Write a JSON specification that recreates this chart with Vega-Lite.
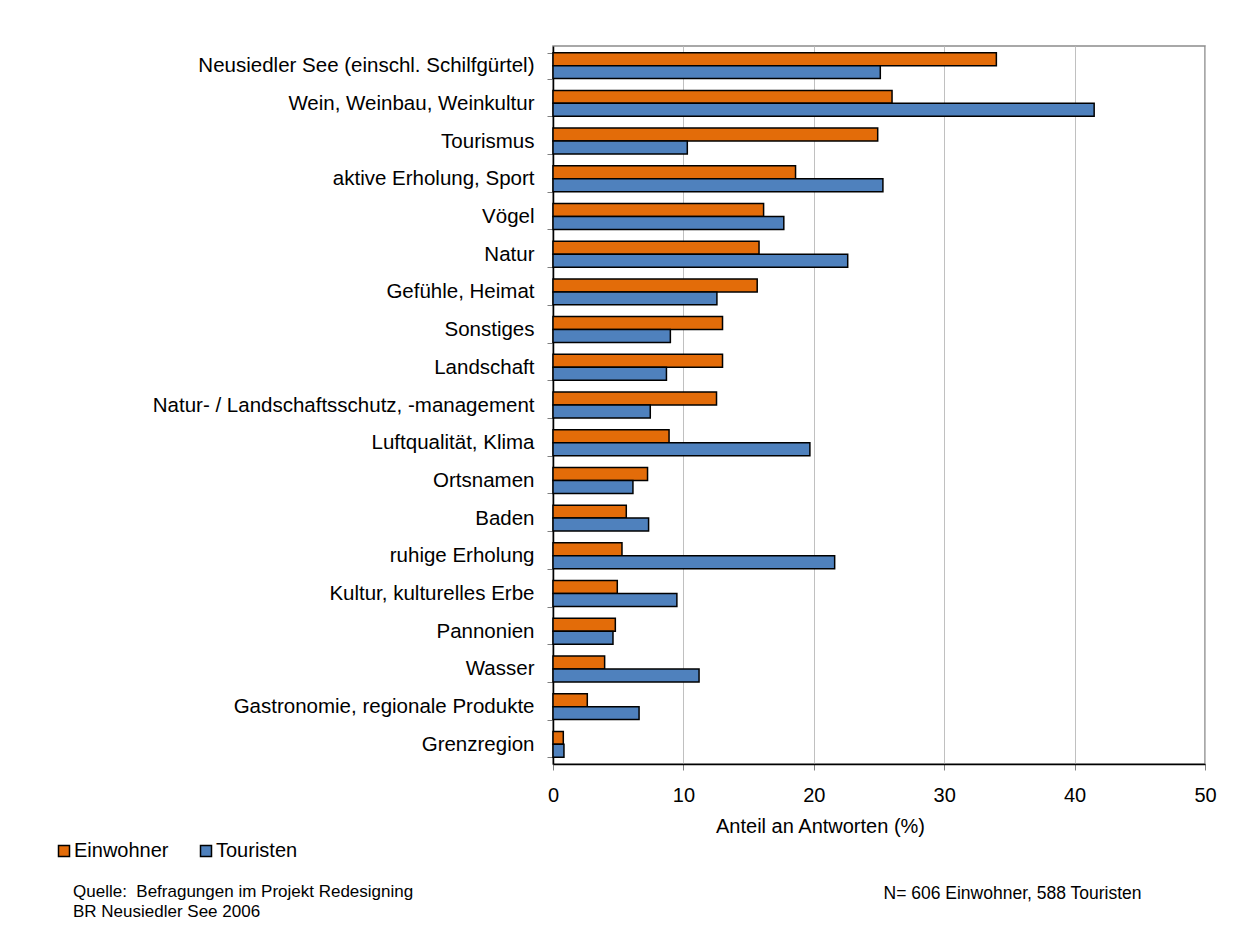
{
  "$schema": "https://vega.github.io/schema/vega-lite/v6.json",
  "width": 652,
  "height": 718,
  "autosize": "none",
  "padding": {"left": 553, "top": 46, "right": 40, "bottom": 169},
  "background": "white",
  "title": {
    "text": ["Quelle:\u00a0 Befragungen im Projekt Redesigning", "BR Neusiedler See 2006"],
    "orient": "bottom",
    "anchor": "start",
    "frame": "group",
    "dx": -480,
    "offset": -18,
    "fontSize": 17,
    "fontWeight": "normal",
    "color": "black",
    "lineHeight": 20,
    "font": "Liberation Sans"
  },
  "data": {
    "values": [
      {"kategorie": "Neusiedler See (einschl. Schilfgürtel)", "gruppe": "Einwohner", "anteil": 34.0},
      {"kategorie": "Neusiedler See (einschl. Schilfgürtel)", "gruppe": "Touristen", "anteil": 25.1},
      {"kategorie": "Wein, Weinbau, Weinkultur", "gruppe": "Einwohner", "anteil": 26.0},
      {"kategorie": "Wein, Weinbau, Weinkultur", "gruppe": "Touristen", "anteil": 41.5},
      {"kategorie": "Tourismus", "gruppe": "Einwohner", "anteil": 24.9},
      {"kategorie": "Tourismus", "gruppe": "Touristen", "anteil": 10.3},
      {"kategorie": "aktive Erholung, Sport", "gruppe": "Einwohner", "anteil": 18.6},
      {"kategorie": "aktive Erholung, Sport", "gruppe": "Touristen", "anteil": 25.3},
      {"kategorie": "Vögel", "gruppe": "Einwohner", "anteil": 16.15},
      {"kategorie": "Vögel", "gruppe": "Touristen", "anteil": 17.7},
      {"kategorie": "Natur", "gruppe": "Einwohner", "anteil": 15.8},
      {"kategorie": "Natur", "gruppe": "Touristen", "anteil": 22.6},
      {"kategorie": "Gefühle, Heimat", "gruppe": "Einwohner", "anteil": 15.66},
      {"kategorie": "Gefühle, Heimat", "gruppe": "Touristen", "anteil": 12.57},
      {"kategorie": "Sonstiges", "gruppe": "Einwohner", "anteil": 13.0},
      {"kategorie": "Sonstiges", "gruppe": "Touristen", "anteil": 9.0},
      {"kategorie": "Landschaft", "gruppe": "Einwohner", "anteil": 13.0},
      {"kategorie": "Landschaft", "gruppe": "Touristen", "anteil": 8.7},
      {"kategorie": "Natur- / Landschaftsschutz, -management", "gruppe": "Einwohner", "anteil": 12.54},
      {"kategorie": "Natur- / Landschaftsschutz, -management", "gruppe": "Touristen", "anteil": 7.46},
      {"kategorie": "Luftqualität, Klima", "gruppe": "Einwohner", "anteil": 8.9},
      {"kategorie": "Luftqualität, Klima", "gruppe": "Touristen", "anteil": 19.7},
      {"kategorie": "Ortsnamen", "gruppe": "Einwohner", "anteil": 7.25},
      {"kategorie": "Ortsnamen", "gruppe": "Touristen", "anteil": 6.13},
      {"kategorie": "Baden", "gruppe": "Einwohner", "anteil": 5.62},
      {"kategorie": "Baden", "gruppe": "Touristen", "anteil": 7.33},
      {"kategorie": "ruhige Erholung", "gruppe": "Einwohner", "anteil": 5.29},
      {"kategorie": "ruhige Erholung", "gruppe": "Touristen", "anteil": 21.6},
      {"kategorie": "Kultur, kulturelles Erbe", "gruppe": "Einwohner", "anteil": 4.93},
      {"kategorie": "Kultur, kulturelles Erbe", "gruppe": "Touristen", "anteil": 9.5},
      {"kategorie": "Pannonien", "gruppe": "Einwohner", "anteil": 4.78},
      {"kategorie": "Pannonien", "gruppe": "Touristen", "anteil": 4.6},
      {"kategorie": "Wasser", "gruppe": "Einwohner", "anteil": 3.96},
      {"kategorie": "Wasser", "gruppe": "Touristen", "anteil": 11.2},
      {"kategorie": "Gastronomie, regionale Produkte", "gruppe": "Einwohner", "anteil": 2.63},
      {"kategorie": "Gastronomie, regionale Produkte", "gruppe": "Touristen", "anteil": 6.6},
      {"kategorie": "Grenzregion", "gruppe": "Einwohner", "anteil": 0.79},
      {"kategorie": "Grenzregion", "gruppe": "Touristen", "anteil": 0.84}
    ]
  },
  "mark": {"type": "bar", "stroke": "black", "strokeWidth": 1.5, "cornerRadius": 0},
  "encoding": {
    "y": {
      "field": "kategorie",
      "type": "nominal",
      "sort": null,
      "scale": {"paddingInner": 0.312, "paddingOuter": 0.177},
      "axis": {
        "title": "N= 606 Einwohner, 588 Touristen",
        "titleAngle": 0,
        "titleX": 330,
        "titleY": 847,
        "titleAlign": "left",
        "titleBaseline": "middle",
        "titleFontSize": 17.5,
        "titleFontWeight": "normal",
        "titleColor": "black",
        "titleFont": "Liberation Sans",
        "labelFontSize": 20.5,
        "labelColor": "black",
        "labelFont": "Liberation Sans",
        "labelLimit": 500,
        "labelPadding": 13,
        "tickSize": 6,
        "tickColor": "#808080",
        "tickBand": "extent",
        "domainColor": "black",
        "domainWidth": 1.5,
        "grid": false
      }
    },
    "yOffset": {
      "field": "gruppe",
      "type": "nominal",
      "sort": ["Einwohner", "Touristen"],
      "scale": {"paddingInner": 0, "paddingOuter": 0}
    },
    "x": {
      "field": "anteil",
      "type": "quantitative",
      "scale": {"domain": [0, 50], "nice": false},
      "axis": {
        "values": [0, 10, 20, 30, 40, 50],
        "title": "Anteil an Antworten (%)",
        "titleX": 267,
        "titleY": 62,
        "titleAlign": "center",
        "titleBaseline": "middle",
        "titleFontSize": 20,
        "titleFontWeight": "normal",
        "titleColor": "black",
        "titleFont": "Liberation Sans",
        "labelFontSize": 20,
        "labelColor": "black",
        "labelFont": "Liberation Sans",
        "labelPadding": 15,
        "tickSize": 6,
        "tickColor": "#808080",
        "domainColor": "black",
        "domainWidth": 1.5,
        "grid": true,
        "gridColor": "#c0c0c0",
        "gridWidth": 1,
        "labelFlush": false
      }
    },
    "color": {
      "field": "gruppe",
      "type": "nominal",
      "scale": {"domain": ["Einwohner", "Touristen"], "range": ["#E36C09", "#4F81BD"]},
      "legend": {
        "title": null,
        "orient": "none",
        "legendX": -499,
        "legendY": 795,
        "direction": "horizontal",
        "symbolType": "square",
        "symbolSize": 121,
        "symbolStrokeColor": "black",
        "symbolStrokeWidth": 1.5,
        "symbolOpacity": 1,
        "labelFontSize": 20,
        "labelColor": "black",
        "labelFont": "Liberation Sans",
        "labelOffset": 0,
        "columnPadding": 27
      }
    }
  },
  "config": {
    "font": "Liberation Sans",
    "view": {"stroke": "#8c8c8c", "strokeWidth": 1.5}
  }
}
